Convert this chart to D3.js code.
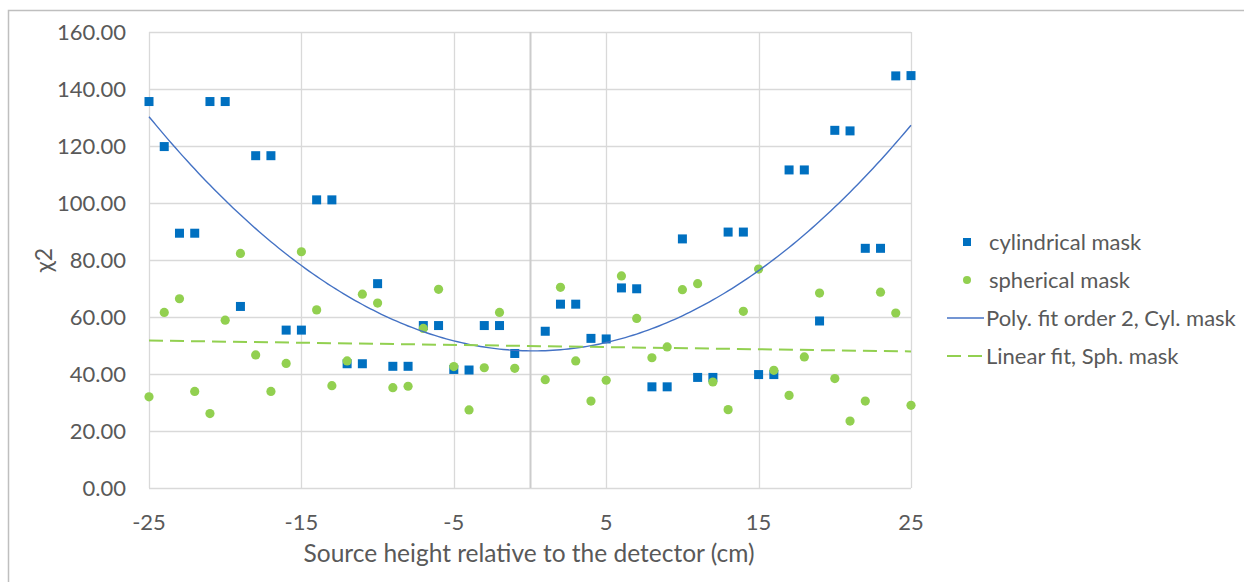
<!DOCTYPE html>
<html>
  <head>
    <script src="https://d3js.org/d3.v7.min.js"></script>
    <style>
      body { margin: 0; background: #fff; }
      text { font-family: Lato, "Open Sans", sans-serif; fill: #595959; }
    </style>
  </head>
  <body>
    <script>
    // source heights (cm), no point at 0
    var xs = [-25, -24, -23, -22, -21, -20, -19, -18, -17, -16, -15, -14, -13, -12, -11, -10, -9, -8, -7, -6, -5, -4, -3, -2, -1,
              1, 2, 3, 4, 5, 6, 7, 8, 9, 10, 11, 12, 13, 14, 15, 16, 17, 18, 19, 20, 21, 22, 23, 24, 25];

    var cylindrical = [135.6, 119.8, 89.4, 89.4, 135.6, 135.6, 63.7, 116.6, 116.6, 55.4, 55.4, 101.1, 101.1, 43.6, 43.6, 71.7, 42.7, 42.7, 57.0, 57.0, 41.6, 41.4, 57.0, 57.0, 47.2,
                       55.0, 64.5, 64.5, 52.5, 52.3, 70.2, 69.9, 35.5, 35.5, 87.4, 38.8, 38.8, 89.8, 89.8, 39.8, 39.8, 111.6, 111.6, 58.6, 125.5, 125.3, 84.1, 84.1, 144.6, 144.7];

    var spherical = [32.0, 61.6, 66.4, 33.9, 26.1, 58.9, 82.3, 46.7, 33.9, 43.7, 82.9, 62.5, 35.9, 44.6, 68.0, 64.9, 35.2, 35.7, 56.0, 69.7, 42.6, 27.4, 42.2, 61.6, 42.0,
                     38.0, 70.4, 44.6, 30.5, 37.8, 74.4, 59.5, 45.7, 49.5, 69.6, 71.7, 37.2, 27.5, 62.0, 76.8, 41.3, 32.5, 46.0, 68.4, 38.4, 23.5, 30.5, 68.7, 61.4, 29.0];

    var xTicks = [-25, -15, -5, 5, 15, 25];
    var yTicks = [0, 20, 40, 60, 80, 100, 120, 140, 160];

    var legendLabels = ['cylindrical mask', 'spherical mask', 'Poly. fit order 2, Cyl. mask', 'Linear fit, Sph. mask'];

    var width = 1244, height = 582;
    var plotL = 149, plotR = 911, plotT = 32, plotB = 488;

    var svg = d3.select('body').append('svg')
      .attr('width', width)
      .attr('height', height);

    // chart frame (only top and left edges visible)
    svg.append('path')
      .attr('d', 'M8.5,' + height + 'V10.5H' + width)
      .attr('fill', 'none')
      .attr('stroke', '#bfbfbf')
      .attr('stroke-width', 1.5);

    var x = d3.scaleLinear().domain([-25, 25]).range([plotL, plotR]);
    var y = d3.scaleLinear().domain([0, 160]).range([plotB, plotT]);

    // gridlines
    var grid = svg.append('g');
    grid.selectAll('.hg').data(yTicks).enter().append('line')
      .attr('x1', plotL).attr('x2', plotR)
      .attr('y1', function(d) { return Math.round(y(d)) + 0.5; })
      .attr('y2', function(d) { return Math.round(y(d)) + 0.5; })
      .attr('stroke', '#d9d9d9').attr('stroke-width', 1.3);
    grid.selectAll('.vg').data(xTicks).enter().append('line')
      .attr('y1', plotT).attr('y2', plotB)
      .attr('x1', function(d) { return Math.round(x(d)) + 0.5; })
      .attr('x2', function(d) { return Math.round(x(d)) + 0.5; })
      .attr('stroke', '#d9d9d9').attr('stroke-width', 1.3);

    // vertical axis crossing at 0
    svg.append('line')
      .attr('x1', Math.round(x(0)) + 0.5).attr('x2', Math.round(x(0)) + 0.5)
      .attr('y1', plotT).attr('y2', plotB)
      .attr('stroke', '#cccccc').attr('stroke-width', 2);

    // tick labels
    svg.append('g').selectAll('text').data(yTicks).enter().append('text')
      .attr('x', 126)
      .attr('y', function(d) { return y(d); })
      .attr('dy', '0.35em')
      .attr('text-anchor', 'end')
      .style('font-size', '22px')
      .text(function(d) { return d3.format('.2f')(d); });

    svg.append('g').selectAll('text').data(xTicks).enter().append('text')
      .attr('x', function(d) { return x(d); })
      .attr('y', 530)
      .attr('text-anchor', 'middle')
      .style('font-size', '22px')
      .text(function(d) { return d; });

    // axis titles
    svg.append('text')
      .attr('x', 529).attr('y', 562)
      .attr('text-anchor', 'middle')
      .style('font-size', '24.5px')
      .text('Source height relative to the detector (cm)');

    svg.append('text')
      .attr('transform', 'translate(52,260) rotate(-90)')
      .attr('text-anchor', 'middle')
      .style('font-size', '23px')
      .text('χ2');

    // least squares fits
    function polyFit(xv, yv, order) {
      var n = order + 1;
      var A = [], b = [];
      for (var i = 0; i < n; i++) {
        A.push([]);
        for (var j = 0; j < n; j++) A[i].push(d3.sum(xv, function(v) { return Math.pow(v, i + j); }));
        b.push(d3.sum(xv, function(v, k) { return Math.pow(v, i) * yv[k]; }));
      }
      for (var c = 0; c < n; c++) {
        for (var r = c + 1; r < n; r++) {
          var f = A[r][c] / A[c][c];
          for (var k = c; k < n; k++) A[r][k] -= f * A[c][k];
          b[r] -= f * b[c];
        }
      }
      var coef = new Array(n);
      for (var r2 = n - 1; r2 >= 0; r2--) {
        var s = b[r2];
        for (var k2 = r2 + 1; k2 < n; k2++) s -= A[r2][k2] * coef[k2];
        coef[r2] = s / A[r2][r2];
      }
      return function(v) { return d3.sum(coef, function(cf, p) { return cf * Math.pow(v, p); }); };
    }

    var cylFit = polyFit(xs, cylindrical, 2);
    var sphFit = polyFit(xs, spherical, 1);
    var fitX = d3.range(-25, 25.01, 0.25);

    // points
    svg.append('g').selectAll('rect').data(xs).enter().append('rect')
      .attr('x', function(d) { return x(d) - 4.5; })
      .attr('y', function(d, i) { return y(cylindrical[i]) - 4.5; })
      .attr('width', 9).attr('height', 9)
      .attr('fill', '#0070c0');

    svg.append('g').selectAll('circle').data(xs).enter().append('circle')
      .attr('cx', function(d) { return x(d); })
      .attr('cy', function(d, i) { return y(spherical[i]); })
      .attr('r', 4.6)
      .attr('fill', '#92d050');

    svg.append('path').datum(fitX)
      .attr('d', d3.line().x(function(d) { return x(d); }).y(function(d) { return y(cylFit(d)); }))
      .attr('fill', 'none')
      .attr('stroke', '#4472c4')
      .attr('stroke-width', 1.4);

    svg.append('path').datum([-25, 25])
      .attr('d', d3.line().x(function(d) { return x(d); }).y(function(d) { return y(sphFit(d)); }))
      .attr('fill', 'none')
      .attr('stroke', '#92d050')
      .attr('stroke-width', 2)
      .attr('stroke-dasharray', '14,7');

    // legend
    var lg = svg.append('g');
    var ly = [242, 280, 318, 356];
    lg.append('rect').attr('x', 963).attr('y', ly[0] - 4).attr('width', 8).attr('height', 8).attr('fill', '#0070c0');
    lg.append('circle').attr('cx', 967).attr('cy', ly[1]).attr('r', 4).attr('fill', '#92d050');
    lg.append('line').attr('x1', 947).attr('x2', 984).attr('y1', ly[2]).attr('y2', ly[2])
      .attr('stroke', '#4472c4').attr('stroke-width', 1.4);
    lg.append('line').attr('x1', 947).attr('x2', 984).attr('y1', ly[3]).attr('y2', ly[3])
      .attr('stroke', '#92d050').attr('stroke-width', 2).attr('stroke-dasharray', '14,7');
    lg.selectAll('text').data(legendLabels).enter().append('text')
      .attr('x', function(d, i) { return i < 2 ? 989 : 986; })
      .attr('y', function(d, i) { return ly[i]; })
      .attr('dy', '0.35em')
      .style('font-size', '22px')
      .text(function(d) { return d; });
    </script>
  </body>
</html>
